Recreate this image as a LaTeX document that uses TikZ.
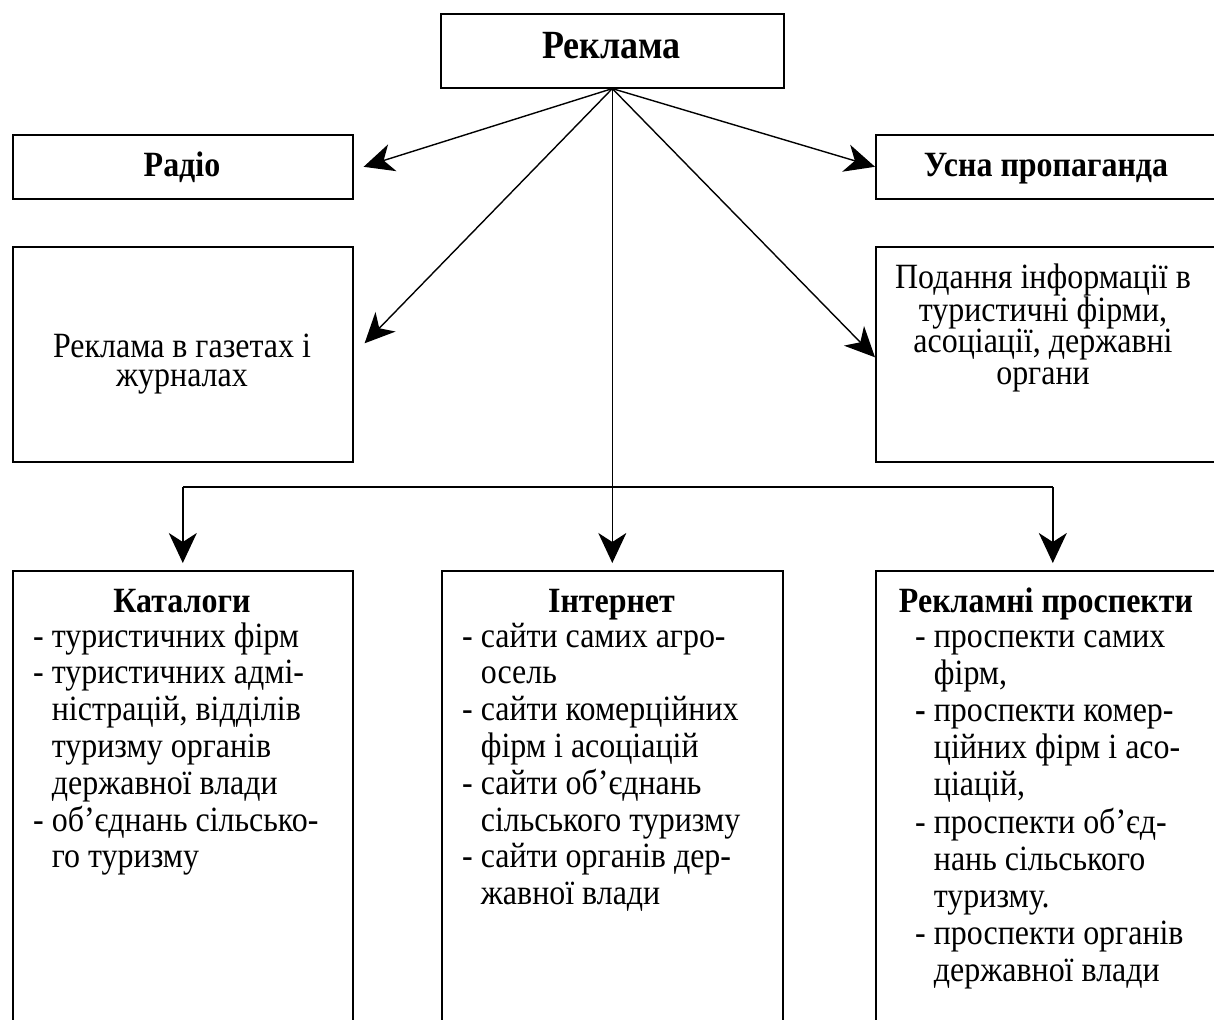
\documentclass[tikz,border=0pt]{standalone}
\usepackage{fontspec}
\setmainfont[FakeStretch=0.9]{Liberation Serif}
\usetikzlibrary{arrows.meta}
\newcommand\myind{\hspace*{18.7pt}}
\begin{document}
\begin{tikzpicture}[x=1pt,y=-1pt,
  box/.style={draw, line width=1.6pt, inner sep=0pt, anchor=north west},
  conn/.style={line width=1.4pt},
  arr/.style={conn, -{Stealth[length=30pt,width=28pt,inset=9pt]}},
  tb/.style={anchor=base, inner sep=0pt, font=\bfseries\fontsize{35.5}{35.5}\selectfont},
  lst/.style={anchor=base west, inner sep=0pt}]
\useasboundingbox (0,0) rectangle (1214,1019);
\clip (0,0) rectangle (1214,1019);
% boxes
\node[box, minimum width=343pt, minimum height=74pt] (top) at (440,13) {};
\node[box, minimum width=340pt, minimum height=64pt] (radio) at (12,134) {};
\node[box, minimum width=354pt, minimum height=64pt] (usna) at (875,134) {};
\node[box, minimum width=340pt, minimum height=215pt] (gaz) at (12,246) {};
\node[box, minimum width=354pt, minimum height=215pt] (pod) at (875,246) {};
\node[box, minimum width=340pt, minimum height=480pt] (kat) at (12,570) {};
\node[box, minimum width=341pt, minimum height=480pt] (inet) at (441,570) {};
\node[box, minimum width=354pt, minimum height=480pt] (prosp) at (875,570) {};
% texts
\node[anchor=base, inner sep=0pt, font=\bfseries\fontsize{40}{40}\selectfont] (ttop) at (611.5,59) {Реклама};
\node[tb] (tradio) at (182,177) {Радіо};
\node[tb] (tusna) at (1046,177) {Усна пропаганда};
\node[anchor=base, inner sep=0pt] (tgaz) at (182,357) {\parbox[t]{330pt}{\centering\fontsize{35.5}{29.5}\selectfont Реклама в газетах і\\журналах}};
\node[anchor=base, inner sep=0pt] (tpod) at (1043,288) {\parbox[t]{340pt}{\centering\fontsize{35.5}{31.7}\selectfont Подання інформації в\\туристичні фірми,\\асоціації, державні\\органи}};
\node[tb] (tkat) at (182,612) {Каталоги};
\node[tb] (tinet) at (611.5,612) {Інтернет};
\node[tb] (tprosp) at (1046,612) {Рекламні проспекти};
\node[lst] (lkat) at (33,647) {\parbox[t]{320pt}{\raggedright\fontsize{35.5}{36.8}\selectfont\noindent
-\ туристичних фірм\\
-\ туристичних адмі-\\
\myind ністрацій, відділів\\
\myind туризму органів\\
\myind державної влади\\
-\ об’єднань сільсько-\\
\myind го туризму}};
\node[lst] (linet) at (462,647) {\parbox[t]{320pt}{\raggedright\fontsize{35.5}{36.8}\selectfont\noindent
-\ сайти самих агро-\\
\myind осель\\
-\ сайти комерційних\\
\myind фірм і асоціацій\\
-\ сайти об’єднань\\
\myind сільського туризму\\
-\ сайти органів дер-\\
\myind жавної влади}};
\node[lst] (lprosp) at (915,647) {\parbox[t]{320pt}{\raggedright\fontsize{35.5}{37.2}\selectfont\noindent
-\ проспекти самих\\
\myind фірм,\\
\textbf{-}\ проспекти комер-\\
\myind ційних фірм і асо-\\
\myind ціацій,\\
-\ проспекти об’єд-\\
\myind нань сільського\\
\myind туризму.\\
-\ проспекти органів\\
\myind державної влади}};
% connectors
\draw[arr] (top.south) -- ([xshift=10pt]radio.east);
\draw[arr] (top.south) -- ([xshift=11pt,yshift=11pt]gaz.east);
\draw[arr] (top.south) -- (usna.west);
\draw[arr] (top.south) -- ([yshift=-3pt]pod.west);
\draw[arr] (top.south) -- ([yshift=7pt]inet.north);
\coordinate (hl) at (611.5,487);
\draw[conn] (hl -| kat.north) -- (hl -| prosp.north);
\draw[arr] (hl -| kat.north) -- ([yshift=7pt]kat.north);
\draw[arr] (hl -| prosp.north) -- ([yshift=7pt]prosp.north);
\end{tikzpicture}
\end{document}
